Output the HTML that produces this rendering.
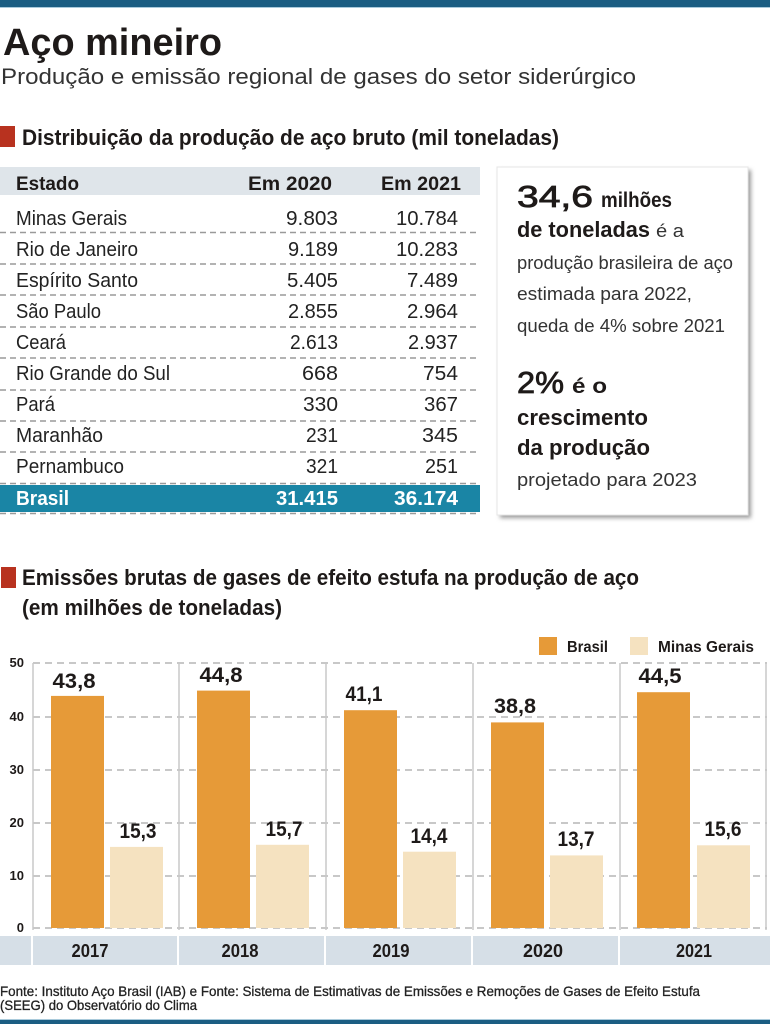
<!DOCTYPE html>
<html>
<head>
<meta charset="utf-8">
<style>
html,body{margin:0;padding:0;background:#fff;}
svg{display:block;}
text{font-family:"Liberation Sans",Arial,sans-serif;}
</style>
</head>
<body>
<svg width="770" height="1024" viewBox="0 0 770 1024" xmlns="http://www.w3.org/2000/svg">
<defs>
<filter id="sh" x="-10%" y="-10%" width="130%" height="130%">
<feGaussianBlur stdDeviation="2"/>
</filter>
</defs>
<rect x="0" y="0" width="770" height="1024" fill="#fff"/>
<!-- top bar -->
<rect x="0" y="0" width="770" height="7" fill="#1b5d82"/>
<rect x="0" y="7" width="770" height="1" fill="#a9cadb"/>

<!-- title -->
<text x="3" y="55" font-size="38" font-weight="bold" fill="#1e1a19" textLength="219" lengthAdjust="spacingAndGlyphs">Aço mineiro</text>
<text x="1" y="84" font-size="22" fill="#333" textLength="635" lengthAdjust="spacingAndGlyphs">Produção e emissão regional de gases do setor siderúrgico</text>

<!-- section 1 header -->
<rect x="0" y="126" width="15" height="21" fill="#b8321f"/>
<text x="22" y="145" font-size="22" font-weight="bold" fill="#1e1a19" textLength="537" lengthAdjust="spacingAndGlyphs">Distribuição da produção de aço bruto (mil toneladas)</text>

<!-- table header -->
<rect x="0" y="167" width="480" height="28" fill="#dfe5ea"/>
<text x="16" y="190" font-size="19" font-weight="bold" fill="#1e1a19" textLength="63" lengthAdjust="spacingAndGlyphs">Estado</text>
<text x="332" y="190" font-size="19" font-weight="bold" fill="#1e1a19" text-anchor="end" textLength="84" lengthAdjust="spacingAndGlyphs">Em 2020</text>
<text x="461" y="190" font-size="19" font-weight="bold" fill="#1e1a19" text-anchor="end" textLength="80" lengthAdjust="spacingAndGlyphs">Em 2021</text>

<!-- Brasil row bg -->
<rect x="0" y="485" width="480" height="27" fill="#1a85a5"/>

<!-- dashed row lines -->
<g stroke="#9a9a9a" stroke-width="1.5" stroke-dasharray="6 4">
<line x1="0" y1="232.5" x2="480" y2="232.5"/>
<line x1="0" y1="264" x2="480" y2="264"/>
<line x1="0" y1="295" x2="480" y2="295"/>
<line x1="0" y1="327" x2="480" y2="327"/>
<line x1="0" y1="358" x2="480" y2="358"/>
<line x1="0" y1="390" x2="480" y2="390"/>
<line x1="0" y1="421" x2="480" y2="421"/>
<line x1="0" y1="452" x2="480" y2="452"/>
<line x1="0" y1="483.5" x2="480" y2="483.5"/>
<line x1="0" y1="513.5" x2="480" y2="513.5"/>
</g>

<!-- rows -->
<g font-size="20" fill="#222">
<text x="16" y="225" textLength="111" lengthAdjust="spacingAndGlyphs">Minas Gerais</text>
<text x="338" y="225" text-anchor="end" textLength="52" lengthAdjust="spacingAndGlyphs">9.803</text>
<text x="458" y="225" text-anchor="end" textLength="62" lengthAdjust="spacingAndGlyphs">10.784</text>

<text x="16" y="256" textLength="122" lengthAdjust="spacingAndGlyphs">Rio de Janeiro</text>
<text x="338" y="256" text-anchor="end" textLength="50" lengthAdjust="spacingAndGlyphs">9.189</text>
<text x="458" y="256" text-anchor="end" textLength="62" lengthAdjust="spacingAndGlyphs">10.283</text>

<text x="16" y="287" textLength="122" lengthAdjust="spacingAndGlyphs">Espírito Santo</text>
<text x="338" y="287" text-anchor="end" textLength="51" lengthAdjust="spacingAndGlyphs">5.405</text>
<text x="458" y="287" text-anchor="end" textLength="51" lengthAdjust="spacingAndGlyphs">7.489</text>

<text x="16" y="318" textLength="85" lengthAdjust="spacingAndGlyphs">São Paulo</text>
<text x="338" y="318" text-anchor="end" textLength="50" lengthAdjust="spacingAndGlyphs">2.855</text>
<text x="458" y="318" text-anchor="end" textLength="51" lengthAdjust="spacingAndGlyphs">2.964</text>

<text x="16" y="349" textLength="50" lengthAdjust="spacingAndGlyphs">Ceará</text>
<text x="338" y="349" text-anchor="end" textLength="48" lengthAdjust="spacingAndGlyphs">2.613</text>
<text x="458" y="349" text-anchor="end" textLength="50" lengthAdjust="spacingAndGlyphs">2.937</text>

<text x="16" y="380" textLength="154" lengthAdjust="spacingAndGlyphs">Rio Grande do Sul</text>
<text x="338" y="380" text-anchor="end" textLength="36" lengthAdjust="spacingAndGlyphs">668</text>
<text x="458" y="380" text-anchor="end" textLength="35" lengthAdjust="spacingAndGlyphs">754</text>

<text x="16" y="411" textLength="39" lengthAdjust="spacingAndGlyphs">Pará</text>
<text x="338" y="411" text-anchor="end" textLength="35" lengthAdjust="spacingAndGlyphs">330</text>
<text x="458" y="411" text-anchor="end" textLength="34" lengthAdjust="spacingAndGlyphs">367</text>

<text x="16" y="442" textLength="87" lengthAdjust="spacingAndGlyphs">Maranhão</text>
<text x="338" y="442" text-anchor="end" textLength="32" lengthAdjust="spacingAndGlyphs">231</text>
<text x="458" y="442" text-anchor="end" textLength="36" lengthAdjust="spacingAndGlyphs">345</text>

<text x="16" y="473" textLength="108" lengthAdjust="spacingAndGlyphs">Pernambuco</text>
<text x="338" y="473" text-anchor="end" textLength="32" lengthAdjust="spacingAndGlyphs">321</text>
<text x="458" y="473" text-anchor="end" textLength="33" lengthAdjust="spacingAndGlyphs">251</text>
</g>
<g font-size="20" font-weight="bold" fill="#fff">
<text x="16" y="505" textLength="53" lengthAdjust="spacingAndGlyphs">Brasil</text>
<text x="338" y="505" text-anchor="end" textLength="62" lengthAdjust="spacingAndGlyphs">31.415</text>
<text x="458" y="505" text-anchor="end" textLength="64" lengthAdjust="spacingAndGlyphs">36.174</text>
</g>

<!-- side box -->
<rect x="500" y="170" width="251" height="348" fill="#9a9a9a" filter="url(#sh)"/>
<rect x="497" y="167" width="251" height="348" fill="#fff" stroke="#e6e6e6" stroke-width="1"/>
<g fill="#1e1a19">
<text x="517" y="207" font-size="31" stroke="#1e1a19" stroke-width="0.8" textLength="76" lengthAdjust="spacingAndGlyphs">34,6</text>
<text x="601" y="207" font-size="21" font-weight="bold" textLength="71" lengthAdjust="spacingAndGlyphs">milhões</text>
<text x="517" y="237" font-size="22" font-weight="bold" textLength="133" lengthAdjust="spacingAndGlyphs">de toneladas</text>
<text x="656" y="237" font-size="18" fill="#333" textLength="28" lengthAdjust="spacingAndGlyphs">é a</text>
<text x="517" y="269" font-size="18" fill="#333" textLength="216" lengthAdjust="spacingAndGlyphs">produção brasileira de aço</text>
<text x="517" y="300" font-size="18" fill="#333" textLength="175" lengthAdjust="spacingAndGlyphs">estimada para 2022,</text>
<text x="517" y="332" font-size="18" fill="#333" textLength="208" lengthAdjust="spacingAndGlyphs">queda de 4% sobre 2021</text>
<text x="517" y="393" font-size="31" stroke="#1e1a19" stroke-width="0.8" textLength="47" lengthAdjust="spacingAndGlyphs">2%</text>
<text x="572" y="393" font-size="21" font-weight="bold" textLength="35" lengthAdjust="spacingAndGlyphs">é o</text>
<text x="517" y="425" font-size="22" font-weight="bold" textLength="131" lengthAdjust="spacingAndGlyphs">crescimento</text>
<text x="517" y="455" font-size="22" font-weight="bold" textLength="133" lengthAdjust="spacingAndGlyphs">da produção</text>
<text x="517" y="486" font-size="18" fill="#333" textLength="180" lengthAdjust="spacingAndGlyphs">projetado para 2023</text>
</g>

<!-- section 2 header -->
<rect x="1" y="567" width="15" height="21" fill="#b8321f"/>
<text x="22" y="585" font-size="22" font-weight="bold" fill="#1e1a19" textLength="617" lengthAdjust="spacingAndGlyphs">Emissões brutas de gases de efeito estufa na produção de aço</text>
<text x="22" y="615" font-size="22" font-weight="bold" fill="#1e1a19" textLength="260" lengthAdjust="spacingAndGlyphs">(em milhões de toneladas)</text>

<!-- legend -->
<rect x="539" y="637" width="18" height="18" fill="#e69a38"/>
<text x="567" y="652" font-size="16" font-weight="bold" fill="#1e1a19" textLength="41" lengthAdjust="spacingAndGlyphs">Brasil</text>
<rect x="630" y="637" width="18" height="18" fill="#f5e2c0"/>
<text x="658" y="652" font-size="16" font-weight="bold" fill="#1e1a19" textLength="96" lengthAdjust="spacingAndGlyphs">Minas Gerais</text>

<!-- gridlines -->
<g stroke="#b5b5b5" stroke-width="1.5" stroke-dasharray="7 5">
<line x1="33" y1="663" x2="767" y2="663"/>
<line x1="33" y1="717" x2="767" y2="717"/>
<line x1="33" y1="770" x2="767" y2="770"/>
<line x1="33" y1="823" x2="767" y2="823"/>
<line x1="33" y1="876" x2="767" y2="876"/>
<line x1="33" y1="928" x2="767" y2="928"/>
</g>
<!-- y labels -->
<g font-size="13" font-weight="bold" fill="#1e1a19" text-anchor="end">
<text x="24" y="667">50</text>
<text x="24" y="721">40</text>
<text x="24" y="774">30</text>
<text x="24" y="827">20</text>
<text x="24" y="880">10</text>
<text x="24" y="932">0</text>
</g>
<!-- panel lines -->
<g stroke="#c8c8c8" stroke-width="1.5">
<line x1="33" y1="663" x2="33" y2="930"/>
<line x1="179" y1="663" x2="179" y2="930"/>
<line x1="326" y1="663" x2="326" y2="930"/>
<line x1="473" y1="663" x2="473" y2="930"/>
<line x1="620" y1="663" x2="620" y2="930"/>
<line x1="766" y1="663" x2="766" y2="930"/>
</g>

<!-- bars -->
<g>
<rect x="51" y="695.9" width="53" height="232.1" fill="#e69a38"/>
<rect x="110" y="846.9" width="53" height="81.1" fill="#f5e2c0"/>
<rect x="197" y="690.6" width="53" height="237.4" fill="#e69a38"/>
<rect x="256" y="844.8" width="53" height="83.2" fill="#f5e2c0"/>
<rect x="344" y="710.2" width="53" height="217.8" fill="#e69a38"/>
<rect x="403" y="851.7" width="53" height="76.3" fill="#f5e2c0"/>
<rect x="491" y="722.4" width="53" height="205.6" fill="#e69a38"/>
<rect x="550" y="855.4" width="53" height="72.6" fill="#f5e2c0"/>
<rect x="637" y="692.2" width="53" height="235.8" fill="#e69a38"/>
<rect x="697" y="845.3" width="53" height="82.7" fill="#f5e2c0"/>
</g>
<!-- value labels -->
<g font-size="21" font-weight="bold" fill="#1e1a19" text-anchor="middle">
<text x="74" y="688" textLength="43" lengthAdjust="spacingAndGlyphs">43,8</text>
<text x="138" y="838" textLength="37" lengthAdjust="spacingAndGlyphs">15,3</text>
<text x="221" y="682" textLength="43" lengthAdjust="spacingAndGlyphs">44,8</text>
<text x="284" y="836" textLength="37" lengthAdjust="spacingAndGlyphs">15,7</text>
<text x="364" y="701" textLength="37" lengthAdjust="spacingAndGlyphs">41,1</text>
<text x="429" y="843" textLength="37" lengthAdjust="spacingAndGlyphs">14,4</text>
<text x="515" y="713" textLength="42" lengthAdjust="spacingAndGlyphs">38,8</text>
<text x="576" y="846" textLength="37" lengthAdjust="spacingAndGlyphs">13,7</text>
<text x="660" y="683" textLength="43" lengthAdjust="spacingAndGlyphs">44,5</text>
<text x="723" y="836" textLength="37" lengthAdjust="spacingAndGlyphs">15,6</text>
</g>

<!-- year band -->
<rect x="0" y="936" width="770" height="29" fill="#d6dfe7"/>
<g fill="#fff">
<rect x="31" y="936" width="2" height="29"/>
<rect x="177" y="936" width="2" height="29"/>
<rect x="324" y="936" width="2" height="29"/>
<rect x="471" y="936" width="2" height="29"/>
<rect x="618" y="936" width="2" height="29"/>
</g>
<g font-size="18" font-weight="bold" fill="#1e1a19" text-anchor="middle">
<text x="90" y="957" textLength="37" lengthAdjust="spacingAndGlyphs">2017</text>
<text x="240" y="957" textLength="37" lengthAdjust="spacingAndGlyphs">2018</text>
<text x="391" y="957" textLength="37" lengthAdjust="spacingAndGlyphs">2019</text>
<text x="543" y="957" textLength="40" lengthAdjust="spacingAndGlyphs">2020</text>
<text x="694" y="957" textLength="36" lengthAdjust="spacingAndGlyphs">2021</text>
</g>

<!-- footer -->
<text x="0" y="996" font-size="14" fill="#222" stroke="#222" stroke-width="0.3" textLength="700" lengthAdjust="spacingAndGlyphs">Fonte: Instituto Aço Brasil (IAB) e Fonte: Sistema de Estimativas de Emissões e Remoções de Gases de Efeito Estufa</text>
<text x="0" y="1010" font-size="14" fill="#222" stroke="#222" stroke-width="0.3" textLength="197" lengthAdjust="spacingAndGlyphs">(SEEG) do Observatório do Clima</text>

<!-- bottom bar -->
<rect x="0" y="1019" width="770" height="1" fill="#a9cadb"/>
<rect x="0" y="1020" width="770" height="4" fill="#1b5d82"/>
</svg>
</body>
</html>
